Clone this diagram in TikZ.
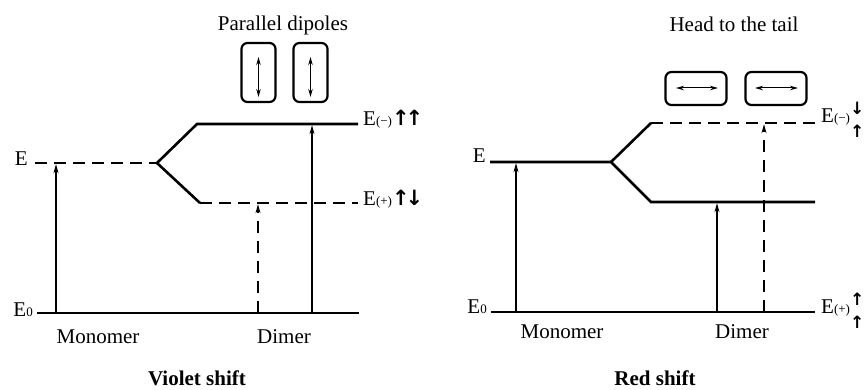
\documentclass[tikz,border=0pt]{standalone}
\usepackage{fontspec}
\setmainfont{Liberation Serif}
\newfontfamily\arwfont{DejaVu Sans}
\usetikzlibrary{arrows.meta}
\newcommand{\smsub}[1]{{\fontsize{13}{13}\selectfont #1}}
\newcommand{\bigarw}[1]{{\arwfont\fontsize{21}{21}\selectfont\bfseries #1}}
\newcommand{\stk}[2]{{\arwfont\fontsize{17}{17}\selectfont\bfseries\makebox[0pt][l]{\raisebox{8pt}{#1}}\raisebox{-15pt}{#2}}}
\begin{document}
\begin{tikzpicture}[x=1pt,y=-1pt,
  level/.style={line width=2.6pt},
  dlevel/.style={line width=2.6pt, dash pattern=on 12pt off 7pt},
  trans/.style={line width=1.1pt,-{Stealth[length=9pt,width=5pt]},shorten >=1.2pt},
  dtrans/.style={trans, dash pattern=on 12pt off 8pt},
  dipbox/.style={draw,line width=2.2pt,rounded corners=6pt,inner sep=0pt},
  dip/.style={line width=1pt,{Stealth[length=8pt,width=4.5pt]}-{Stealth[length=8pt,width=4.5pt]}},
  lbl/.style={font=\fontsize{21}{21}\selectfont, inner sep=0pt},
  ]
\useasboundingbox (0,0) rectangle (866,390);

% ---------------- Left panel: violet shift ----------------
\coordinate (lE) at (35,163);
\coordinate (lS) at (157,163);
\coordinate (lUa) at (197,124);
\coordinate (lUb) at (358,124);
\coordinate (lLa) at (200,203);
\coordinate (lLb) at (358,203);
\coordinate (lG0) at (37,313);
\coordinate (lG1) at (359,313);

\draw[dlevel] (lE) -- (lS);
\draw[level, line join=miter] (lUb) -- (lUa) -- (lS) -- (lLa);
\draw[dlevel] (lLa) -- (lLb);
\draw[level] (lG0) -- (lG1);

\coordinate (lmB) at (56,313);  \coordinate (lmT) at (56,163);
\coordinate (ldB) at (258,313); \coordinate (ldT) at (258,203);
\coordinate (lsB) at (312,313); \coordinate (lsT) at (312,124);
\draw[trans] (lmB) -- (lmT);
\draw[dtrans] (ldB) -- (ldT);
\draw[trans] (lsB) -- (lsT);

\node[dipbox, minimum width=34pt, minimum height=59pt] (lb1) at (258.5,72.5) {};
\node[dipbox, minimum width=34pt, minimum height=59pt] (lb2) at (310.5,72.5) {};
\coordinate (lb1t) at (258.5,57); \coordinate (lb1b) at (258.5,97);
\coordinate (lb2t) at (310.5,57); \coordinate (lb2b) at (310.5,97);
\draw[dip] (lb1t) -- (lb1b);
\draw[dip] (lb2t) -- (lb2b);

\node[lbl, anchor=base] (ltitle) at (283,31) {Parallel dipoles};
\node[lbl, anchor=base east] (lElbl) at (28,165) {E};
\node[lbl, anchor=base east] (lE0lbl) at (33,316) {E\smsub{0}};
\node[lbl, anchor=base west] (lEm) at (363,126) {E\smsub{(−)}\bigarw{↑\hspace{-4pt}↑}};
\node[lbl, anchor=base west] (lEp) at (363,205) {E\smsub{(+)}\bigarw{↑\hspace{-4pt}↓}};
\node[lbl, anchor=base] (lmon) at (98,343) {Monomer};
\node[lbl, anchor=base] (ldim) at (284,343) {Dimer};
\node[lbl, anchor=base, font=\fontsize{21}{21}\selectfont\bfseries] (lshift) at (197,385) {Violet shift};

% ---------------- Right panel: red shift ----------------
\coordinate (rE) at (490,162);
\coordinate (rS) at (611,162);
\coordinate (rUa) at (651,123);
\coordinate (rUb) at (815,123);
\coordinate (rLa) at (651,202);
\coordinate (rLb) at (815,202);
\coordinate (rG0) at (491,312);
\coordinate (rG1) at (815,312);

\draw[level, line join=miter] (rE) -- (rS) -- (rLa) -- (rLb);
\draw[level] (rS) -- (rUa);
\draw[dlevel] (rUa) -- (rUb);
\draw[level] (rG0) -- (rG1);

\coordinate (rmB) at (516,312); \coordinate (rmT) at (516,162);
\coordinate (rdB) at (717,312); \coordinate (rdT) at (717,202);
\coordinate (rsB) at (764,312); \coordinate (rsT) at (764,123);
\draw[trans] (rmB) -- (rmT);
\draw[trans] (rdB) -- (rdT);
\draw[dtrans] (rsB) -- (rsT);

\node[dipbox, minimum width=61pt, minimum height=33pt] (rb1) at (696,88.5) {};
\node[dipbox, minimum width=61pt, minimum height=33pt] (rb2) at (776,88.5) {};
\coordinate (rb1l) at (676,88); \coordinate (rb1r) at (718,88);
\coordinate (rb2l) at (755,88); \coordinate (rb2r) at (798,88);
\draw[dip] (rb1l) -- (rb1r);
\draw[dip] (rb2l) -- (rb2r);

\node[lbl, anchor=base] (rtitle) at (734,32) {Head to the tail};
\node[lbl, anchor=base east] (rElbl) at (486,163) {E};
\node[lbl, anchor=base east] (rE0lbl) at (487,313) {E\smsub{0}};
\node[lbl, anchor=base west] (rEm) at (821,123) {E\smsub{(−)}\stk{↓}{↑}};
\node[lbl, anchor=base west] (rEp) at (821,313) {E\smsub{(+)}\stk{↑}{↑}};
\node[lbl, anchor=base] (rmon) at (562,338) {Monomer};
\node[lbl, anchor=base] (rdim) at (742,338) {Dimer};
\node[lbl, anchor=base, font=\fontsize{21}{21}\selectfont\bfseries] (rshift) at (655,385) {Red shift};
\end{tikzpicture}
\end{document}
